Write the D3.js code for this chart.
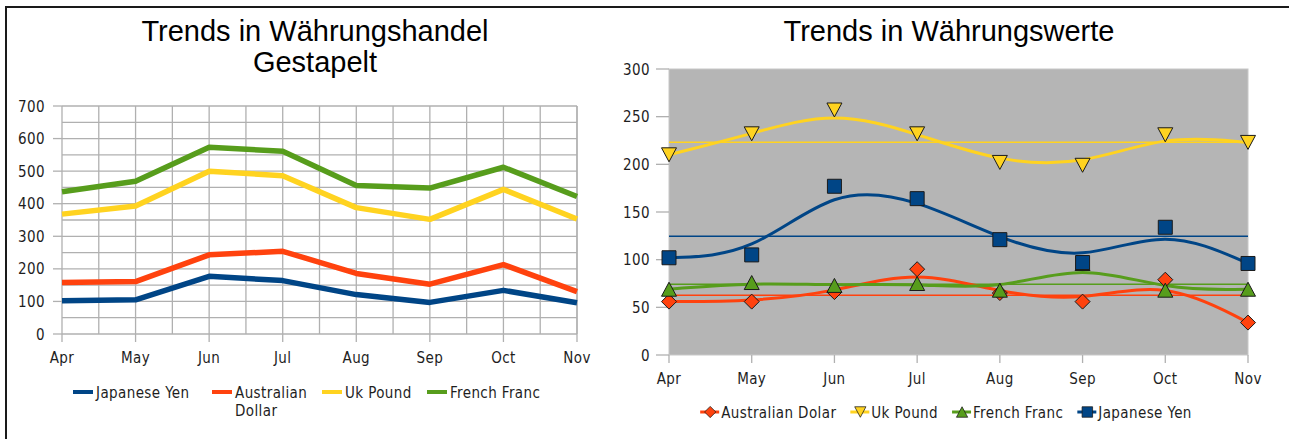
<!DOCTYPE html>
<html>
<head>
<meta charset="utf-8">
<script src="https://cdn.jsdelivr.net/npm/d3@7"></script>
<style>
  html, body { margin: 0; padding: 0; background: #ffffff; }
  svg { display: block; }
  .tick-label { font-family: "DejaVu Sans Condensed", "Liberation Sans Narrow", sans-serif; font-stretch: condensed; font-size: 15px; letter-spacing: 0.4px; fill: #1e1e1e; }
  .title { font-family: "Liberation Sans", Arial, sans-serif; font-size: 29px; fill: #000; }
</style>
</head>
<body>
<svg id="chart" width="1289" height="439"></svg>
<script>
// Monthly currency values, April to November
const months = ["Apr", "May", "Jun", "Jul", "Aug", "Sep", "Oct", "Nov"];
const japaneseYen      = [102, 105, 177, 164, 121, 97, 134, 96];
const australianDollar = [56, 56, 66, 90, 65, 56, 79, 34];
const ukPound          = [210, 232, 257, 232, 202, 199, 231, 223];
const frenchFranc      = [69, 76, 73, 75, 68, 96, 68, 69];

const leftTicks  = [0, 100, 200, 300, 400, 500, 600, 700];
const rightTicks = [0, 50, 100, 150, 200, 250, 300];

const colors = {
  yen: "#004586",
  aud: "#ff420e",
  uk: "#ffd320",
  franc: "#579d1c"
};

const svg = d3.select("#chart");
const FONT = "tick-label";

// Outer frame
svg.append("path")
  .attr("d", "M6,439 L6,7 L1289,7")
  .attr("fill", "none")
  .attr("stroke", "#1a1a1a")
  .attr("stroke-width", 2);

/* ---------------- Left chart: stacked lines ---------------- */
{
  const g = svg.append("g");
  g.append("text").attr("class", "title").attr("x", 315).attr("y", 41)
    .attr("text-anchor", "middle").text("Trends in Währungshandel");
  g.append("text").attr("class", "title").attr("x", 315).attr("y", 72)
    .attr("text-anchor", "middle").text("Gestapelt");

  const x = d3.scaleLinear().domain([0, months.length - 1]).range([62, 577]);
  const y = d3.scaleLinear().domain([0, 700]).range([334, 106]);

  // grid: every 50 horizontally, every half month vertically
  const hGrid = d3.range(0, 701, 50);
  const vGrid = d3.range(0, months.length - 0.5, 0.5).concat([months.length - 1]);
  g.append("g").selectAll("line").data(hGrid).join("line")
    .attr("x1", x(0)).attr("x2", x(months.length - 1))
    .attr("y1", d => y(d)).attr("y2", d => y(d))
    .attr("stroke", "#b0b0b0").attr("stroke-width", 1.3);
  g.append("g").selectAll("line").data(vGrid).join("line")
    .attr("x1", d => x(d)).attr("x2", d => x(d))
    .attr("y1", y(0)).attr("y2", y(700))
    .attr("stroke", "#b0b0b0").attr("stroke-width", 1.3);

  // y axis ticks + labels
  g.append("g").selectAll("line").data(leftTicks).join("line")
    .attr("x1", 53).attr("x2", x(0))
    .attr("y1", d => y(d)).attr("y2", d => y(d))
    .attr("stroke", "#b0b0b0").attr("stroke-width", 1.3);
  g.append("g").selectAll("text").data(leftTicks).join("text")
    .attr("class", FONT).attr("x", 45).attr("y", d => y(d) + 5.5)
    .attr("text-anchor", "end").text(d => d);

  // x axis ticks + labels
  g.append("g").selectAll("line").data(months).join("line")
    .attr("x1", (d, i) => x(i)).attr("x2", (d, i) => x(i))
    .attr("y1", y(0)).attr("y2", y(0) + 8)
    .attr("stroke", "#b0b0b0").attr("stroke-width", 1.3);
  g.append("g").selectAll("text").data(months).join("text")
    .attr("class", FONT).attr("x", (d, i) => x(i)).attr("y", 363)
    .attr("text-anchor", "middle").text(d => d);

  // stacked series
  const table = months.map((m, i) => ({
    month: m, yen: japaneseYen[i], aud: australianDollar[i], uk: ukPound[i], franc: frenchFranc[i]
  }));
  const keys = ["yen", "aud", "uk", "franc"];
  const stacked = d3.stack().keys(keys)(table);
  const line = d3.line().x((d, i) => x(i)).y(d => y(d[1]));
  g.append("g").selectAll("path").data(stacked).join("path")
    .attr("d", line)
    .attr("fill", "none")
    .attr("stroke", d => colors[d.key])
    .attr("stroke-width", 5.5)
    .attr("stroke-linejoin", "round");

  // legend
  const legend = [
    { key: "yen", lines: ["Japanese Yen"], x: 73 },
    { key: "aud", lines: ["Australian", "Dollar"], x: 212 },
    { key: "uk", lines: ["Uk Pound"], x: 322 },
    { key: "franc", lines: ["French Franc"], x: 427 }
  ];
  const lg = g.append("g").selectAll("g").data(legend).join("g")
    .attr("transform", d => `translate(${d.x},392)`);
  lg.append("line").attr("x1", 0).attr("x2", 20).attr("y1", 0).attr("y2", 0)
    .attr("stroke", d => colors[d.key]).attr("stroke-width", 4);
  lg.each(function (d) {
    d3.select(this).selectAll("text").data(d.lines).join("text")
      .attr("class", FONT).attr("x", 23).attr("y", (t, i) => 5.5 + i * 18).text(t => t);
  });
}

/* ---------------- Right chart: smoothed values ---------------- */
{
  const g = svg.append("g");
  g.append("text").attr("class", "title").attr("x", 949).attr("y", 41)
    .attr("text-anchor", "middle").text("Trends in Währungswerte");

  const x = d3.scalePoint().domain(months).range([669, 1248]);
  const y = d3.scaleLinear().domain([0, 300]).range([355, 69]);

  g.append("rect")
    .attr("x", x("Apr")).attr("y", y(300))
    .attr("width", x("Nov") - x("Apr")).attr("height", y(0) - y(300))
    .attr("fill", "#b5b5b5").attr("stroke", "#c8c8c8").attr("stroke-width", 1);

  g.append("g").selectAll("line").data(rightTicks).join("line")
    .attr("x1", 656).attr("x2", x("Apr"))
    .attr("y1", d => y(d)).attr("y2", d => y(d))
    .attr("stroke", "#b0b0b0").attr("stroke-width", 1.3);
  g.append("g").selectAll("text").data(rightTicks).join("text")
    .attr("class", FONT).attr("x", 650).attr("y", d => y(d) + 5.5)
    .attr("text-anchor", "end").text(d => d);

  g.append("g").selectAll("line").data(months).join("line")
    .attr("x1", d => x(d)).attr("x2", d => x(d))
    .attr("y1", y(0)).attr("y2", y(0) + 8)
    .attr("stroke", "#b0b0b0").attr("stroke-width", 1.3);
  g.append("g").selectAll("text").data(months).join("text")
    .attr("class", FONT).attr("x", d => x(d)).attr("y", 384)
    .attr("text-anchor", "middle").text(d => d);

  const series = [
    { key: "aud", name: "Australian Dolar", values: australianDollar, shape: "diamond" },
    { key: "uk", name: "Uk Pound", values: ukPound, shape: "down" },
    { key: "franc", name: "French Franc", values: frenchFranc, shape: "up" },
    { key: "yen", name: "Japanese Yen", values: japaneseYen, shape: "square" }
  ];

  const shapes = {
    diamond: "M0,-7.5L7.5,0L0,7.5L-7.5,0Z",
    down: "M-7.5,-7L7.5,-7L0,7Z",
    up: "M0,-7L7.5,7L-7.5,7Z",
    square: "M-7,-7L7,-7L7,7L-7,7Z"
  };

  const curve = d3.line()
    .x((d, i) => x(months[i]))
    .y(d => y(d))
    .curve(d3.curveBasis);

  // mean lines
  g.append("g").selectAll("line").data(series).join("line")
    .attr("x1", x("Apr")).attr("x2", x("Nov"))
    .attr("y1", d => y(d3.mean(d.values))).attr("y2", d => y(d3.mean(d.values)))
    .attr("stroke", d => colors[d.key]).attr("stroke-width", 1.5);

  // smoothed curves
  g.append("g").selectAll("path").data(series).join("path")
    .attr("d", d => curve(d.values))
    .attr("fill", "none")
    .attr("stroke", d => colors[d.key])
    .attr("stroke-width", 3);

  // markers
  series.forEach(s => {
    g.append("g").selectAll("path").data(s.values).join("path")
      .attr("transform", (v, i) => `translate(${x(months[i])},${y(v)})`)
      .attr("d", shapes[s.shape])
      .attr("fill", colors[s.key])
      .attr("stroke", "#1a1a1a")
      .attr("stroke-width", 1);
  });

  // legend, laid out from measured text widths and centred under the plot
  const lg = g.append("g");
  const items = lg.selectAll("g").data(series).join("g");
  items.append("line").attr("x1", 0).attr("x2", 19).attr("y1", 0).attr("y2", 0)
    .attr("stroke", d => colors[d.key]).attr("stroke-width", 3);
  items.append("path")
    .attr("transform", "translate(10,0) scale(0.75)")
    .attr("d", d => shapes[d.shape])
    .attr("fill", d => colors[d.key])
    .attr("stroke", "#1a1a1a").attr("stroke-width", 1);
  items.append("text").attr("class", FONT).attr("x", 21).attr("y", 5.5).text(d => d.name);
  const gap = 14;
  let cursor = 0;
  const offsets = [];
  items.each(function () {
    offsets.push(cursor);
    cursor += 21 + this.querySelector("text").getComputedTextLength() + gap;
  });
  const total = cursor - gap;
  const start = 946 - total / 2;
  items.attr("transform", (d, i) => `translate(${start + offsets[i]},412)`);
}
</script>
</body>
</html>
